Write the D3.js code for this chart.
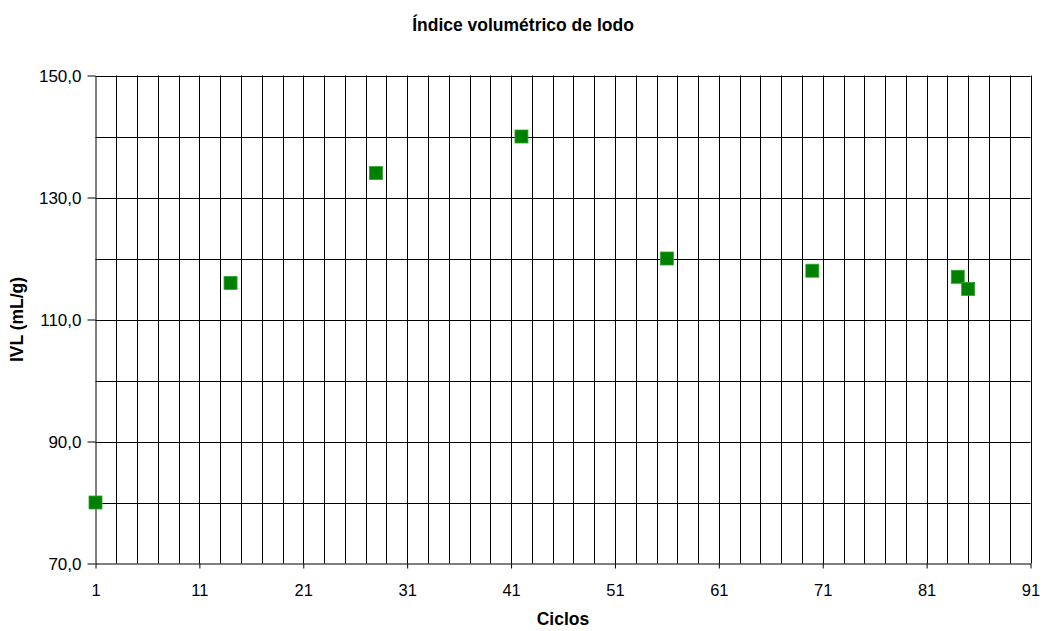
<!DOCTYPE html>
<html><head><meta charset="utf-8">
<script src="https://cdn.jsdelivr.net/npm/d3@7"></script>
<style>body{margin:0;background:#fff}svg{display:block}text{font-family:"Liberation Sans",Arial,sans-serif;fill:#000}</style>
</head><body><svg id="c" width="1050" height="631"></svg>
<script>
const ciclos = [1, 14, 28, 42, 56, 70, 84, 85];
const ivl = [80, 116, 134, 140, 120, 118, 117, 115];
const xTicks = [1, 11, 21, 31, 41, 51, 61, 71, 81, 91];
const yTicks = [70, 90, 110, 130, 150];
const title = "Índice volumétrico de lodo";
const xTitle = "Ciclos";
const yTitle = "IVL (mL/g)";

const svg = d3.select("#c");
const L = 95.5, R = 1030.5, T = 75.5, B = 563.5;
const x = d3.scaleLinear().domain([1, 91]).range([L, R]);
const y = d3.scaleLinear().domain([70, 150]).range([B, T]);

// grid
const g = svg.append("g");
g.selectAll(".vg").data(d3.range(3, 92, 2)).join("line")
  .attr("x1", d => Math.round(x(d)) + 0.5).attr("x2", d => Math.round(x(d)) + 0.5)
  .attr("y1", T).attr("y2", B).attr("stroke", "#000").attr("stroke-width", 1);
g.selectAll(".hg").data(d3.range(80, 151, 10)).join("line")
  .attr("x1", L).attr("x2", R)
  .attr("y1", d => Math.round(y(d)) + 0.5).attr("y2", d => Math.round(y(d)) + 0.5)
  .attr("stroke", "#000").attr("stroke-width", 1);

// axes
const xa = svg.append("g").attr("transform", `translate(0,${B})`)
  .call(d3.axisBottom(x).tickValues(xTicks).tickSize(5).tickSizeOuter(0).tickFormat(d3.format("d")));
xa.select(".domain").attr("stroke", "#000");
xa.selectAll("text").attr("font-size", 16.5).attr("y", 32).attr("dy", 0);
const ya = svg.append("g").attr("transform", `translate(${L},0)`)
  .call(d3.axisLeft(y).tickValues(yTicks).tickSize(8).tickSizeOuter(0)
    .tickFormat(d => d.toFixed(1).replace(".", ",")));
ya.select(".domain").attr("stroke", "#000");
ya.selectAll("text").attr("font-size", 17).attr("x", -14).attr("dy", "0.34em");

// points
const s = 13;
svg.append("g").selectAll("rect").data(ciclos.map((c, i) => [c, ivl[i]])).join("rect")
  .attr("x", d => x(d[0]) - s / 2).attr("y", d => y(d[1]) - s / 2)
  .attr("width", s).attr("height", s)
  .attr("fill", "#008000").attr("stroke", "#2ea52e").attr("stroke-width", 0.8);

// titles
svg.append("text").attr("x", 523).attr("y", 30.5).attr("text-anchor", "middle")
  .attr("font-size", 17.5).attr("font-weight", "bold").text(title);
svg.append("text").attr("x", (L + R) / 2).attr("y", 625).attr("text-anchor", "middle")
  .attr("font-size", 17.5).attr("font-weight", "bold").text(xTitle);
svg.append("text").attr("transform", `translate(23,${(T + B) / 2}) rotate(-90)`)
  .attr("text-anchor", "middle").attr("font-size", 17.5).attr("font-weight", "bold").text(yTitle);
</script></body></html>
